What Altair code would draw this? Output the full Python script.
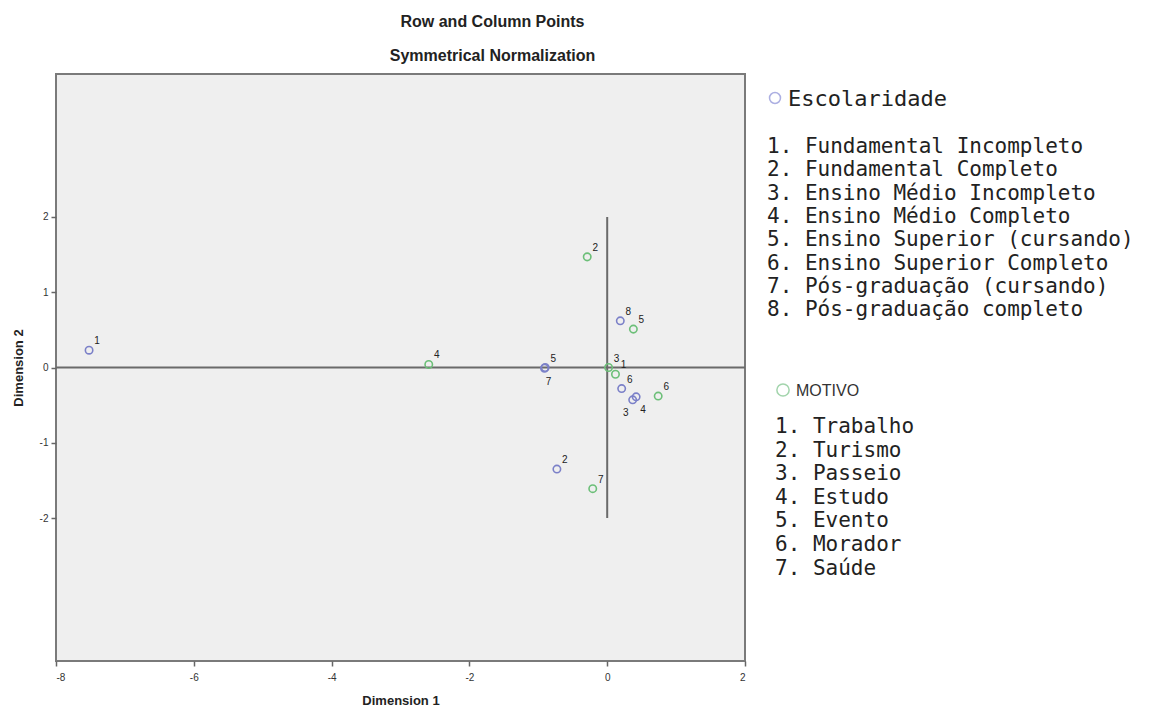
import altair as alt
import pandas as pd

# Row points: Escolaridade
esc_ids = [1, 2, 3, 4, 5, 6, 7, 8]
esc_names = [
    "Fundamental Incompleto",
    "Fundamental Completo",
    "Ensino Médio Incompleto",
    "Ensino Médio Completo",
    "Ensino Superior (cursando)",
    "Ensino Superior Completo",
    "Pós-graduação (cursando)",
    "Pós-graduação completo",
]
esc_dim1 = [-7.52, -0.73, 0.37, 0.42, -0.90, 0.21, -0.91, 0.19]
esc_dim2 = [0.23, -1.35, -0.43, -0.39, 0.00, -0.28, -0.01, 0.62]

# Column points: MOTIVO
mot_ids = [1, 2, 3, 4, 5, 6, 7]
mot_names = ["Trabalho", "Turismo", "Passeio", "Estudo", "Evento", "Morador", "Saúde"]
mot_dim1 = [0.12, -0.29, 0.02, -2.59, 0.38, 0.74, -0.21]
mot_dim2 = [-0.09, 1.47, 0.00, 0.04, 0.51, -0.38, -1.61]

x_ticks = [-8, -6, -4, -2, 0, 2]
y_ticks = [-2, -1, 0, 1, 2]
x_domain = [-8, 2]
y_domain = [-3.9, 3.9]

# Labels that sit under their marker instead of above-right
label_below = {("Escolaridade", 3): "sw", ("Escolaridade", 4): "se", ("Escolaridade", 7): "s"}

BLUE = "#7b80c8"
GREEN = "#6cbf78"
INK = "#222222"
MONO = "DejaVu Sans Mono"
SANS = "Liberation Sans"

rows = []
for i, a, b in zip(esc_ids, esc_dim1, esc_dim2):
    rows.append({"grupo": "Escolaridade", "id": i, "dim1": a, "dim2": b,
                 "pos": label_below.get(("Escolaridade", i), "ne")})
for i, a, b in zip(mot_ids, mot_dim1, mot_dim2):
    rows.append({"grupo": "MOTIVO", "id": i, "dim1": a, "dim2": b,
                 "pos": label_below.get(("MOTIVO", i), "ne")})
points = pd.DataFrame(rows)

plain_minus = "'' + datum.value"
X = alt.X("dim1:Q", scale=alt.Scale(domain=x_domain, nice=False, zero=False),
          axis=alt.Axis(values=x_ticks, title="Dimension 1", labelExpr=plain_minus))
Y = alt.Y("dim2:Q", scale=alt.Scale(domain=y_domain, nice=False, zero=False),
          axis=alt.Axis(values=y_ticks, title="Dimension 2", labelExpr=plain_minus))
color = alt.Color("grupo:N", scale=alt.Scale(domain=["Escolaridade", "MOTIVO"], range=[BLUE, GREEN]),
                  legend=None)

# Reference axes through the origin
cross = pd.DataFrame({"dim1": [x_domain[0], 0], "dim1_end": [x_domain[1], 0],
                      "dim2": [0, -2], "dim2_end": [0, 2]})
cross_layer = alt.Chart(cross).mark_rule(color="#6a6a6a", strokeWidth=2).encode(
    x=X, x2="dim1_end:Q", y=Y, y2="dim2_end:Q")

point_layer = alt.Chart(points).mark_point(
    shape="circle", filled=False, size=55, strokeWidth=1.6, opacity=1
).encode(x=X, y=Y, color=color)

offsets = {"ne": (8, -9), "sw": (-7, 13), "se": (7, 13), "s": (4, 14)}
label_layers = []
for key, (dx, dy) in offsets.items():
    label_layers.append(
        alt.Chart(points).transform_filter(alt.datum.pos == key)
        .mark_text(dx=dx, dy=dy, fontSize=10, font=SANS, color=INK)
        .encode(x=X, y=Y, text="id:N")
    )

# Side key, drawn in pixel space to the right of the plot
esc_lines = pd.DataFrame({"txt": [f"{i}. {n}" for i, n in zip(esc_ids, esc_names)],
                          "k": list(range(len(esc_ids)))})
mot_lines = pd.DataFrame({"txt": [f"{i}. {n}" for i, n in zip(mot_ids, mot_names)],
                          "k": list(range(len(mot_ids)))})

esc_list = alt.Chart(esc_lines).transform_calculate(py="73 + datum.k * 23.3").mark_text(
    align="left", baseline="middle", font=MONO, fontSize=21, color=INK
).encode(x=alt.value(711), y=alt.Y("py:Q", scale=None, axis=None), text="txt:N")

mot_list = alt.Chart(mot_lines).transform_calculate(py="353 + datum.k * 23.6").mark_text(
    align="left", baseline="middle", font=MONO, fontSize=21, color=INK
).encode(x=alt.value(719), y=alt.Y("py:Q", scale=None, axis=None), text="txt:N")

head = pd.DataFrame({"txt": ["Escolaridade"]})
esc_mark = alt.Chart(head).mark_point(shape="circle", filled=False, size=120, strokeWidth=1.5,
                                      color="#8a8ed6").encode(x=alt.value(719), y=alt.value(24))
esc_head = alt.Chart(head).mark_text(align="left", baseline="middle", font=MONO, fontSize=22,
                                     color=INK).encode(x=alt.value(732), y=alt.value(25), text="txt:N")

head2 = pd.DataFrame({"txt": ["MOTIVO"]})
mot_mark = alt.Chart(head2).mark_point(shape="circle", filled=False, size=150, strokeWidth=1.5,
                                       color="#7cc38a").encode(x=alt.value(727), y=alt.value(316))
mot_head = alt.Chart(head2).mark_text(align="left", baseline="middle", font=SANS, fontSize=16,
                                      color="#333333").encode(x=alt.value(740), y=alt.value(317), text="txt:N")

chart = alt.layer(
    cross_layer, point_layer, *label_layers,
    esc_mark, esc_head, esc_list, mot_mark, mot_head, mot_list,
).properties(
    width=689,
    height=587,
    background="white",
    autosize=alt.AutoSizeParams(type="none"),
    padding={"left": 56, "top": 74, "right": 413, "bottom": 52},
    title=alt.TitleParams(
        text="Row and Column Points",
        subtitle="Symmetrical Normalization",
        anchor="middle",
        dx=92,
        font=SANS, fontSize=16, fontWeight="bold", color=INK,
        subtitleFont=SANS, subtitleFontSize=16, subtitleFontWeight="bold", subtitleColor=INK,
        subtitlePadding=18, offset=10,
    ),
).configure_view(
    fill="#efefef", stroke="#7a7a7a", strokeWidth=2
).configure_axis(
    grid=False, domain=False, tickSize=5, tickColor="#666666", tickWidth=1.5,
    labelFont=SANS, labelFontSize=10, labelColor="#333333",
    titleFont=SANS, titleFontSize=13, titleFontWeight="bold", titleColor=INK,
).configure_axisX(
    labelPadding=6, titlePadding=12
).configure_axisY(
    labelPadding=3, titlePadding=14
)

chart.save("out.html", embed_options={"renderer": "svg", "actions": False})
